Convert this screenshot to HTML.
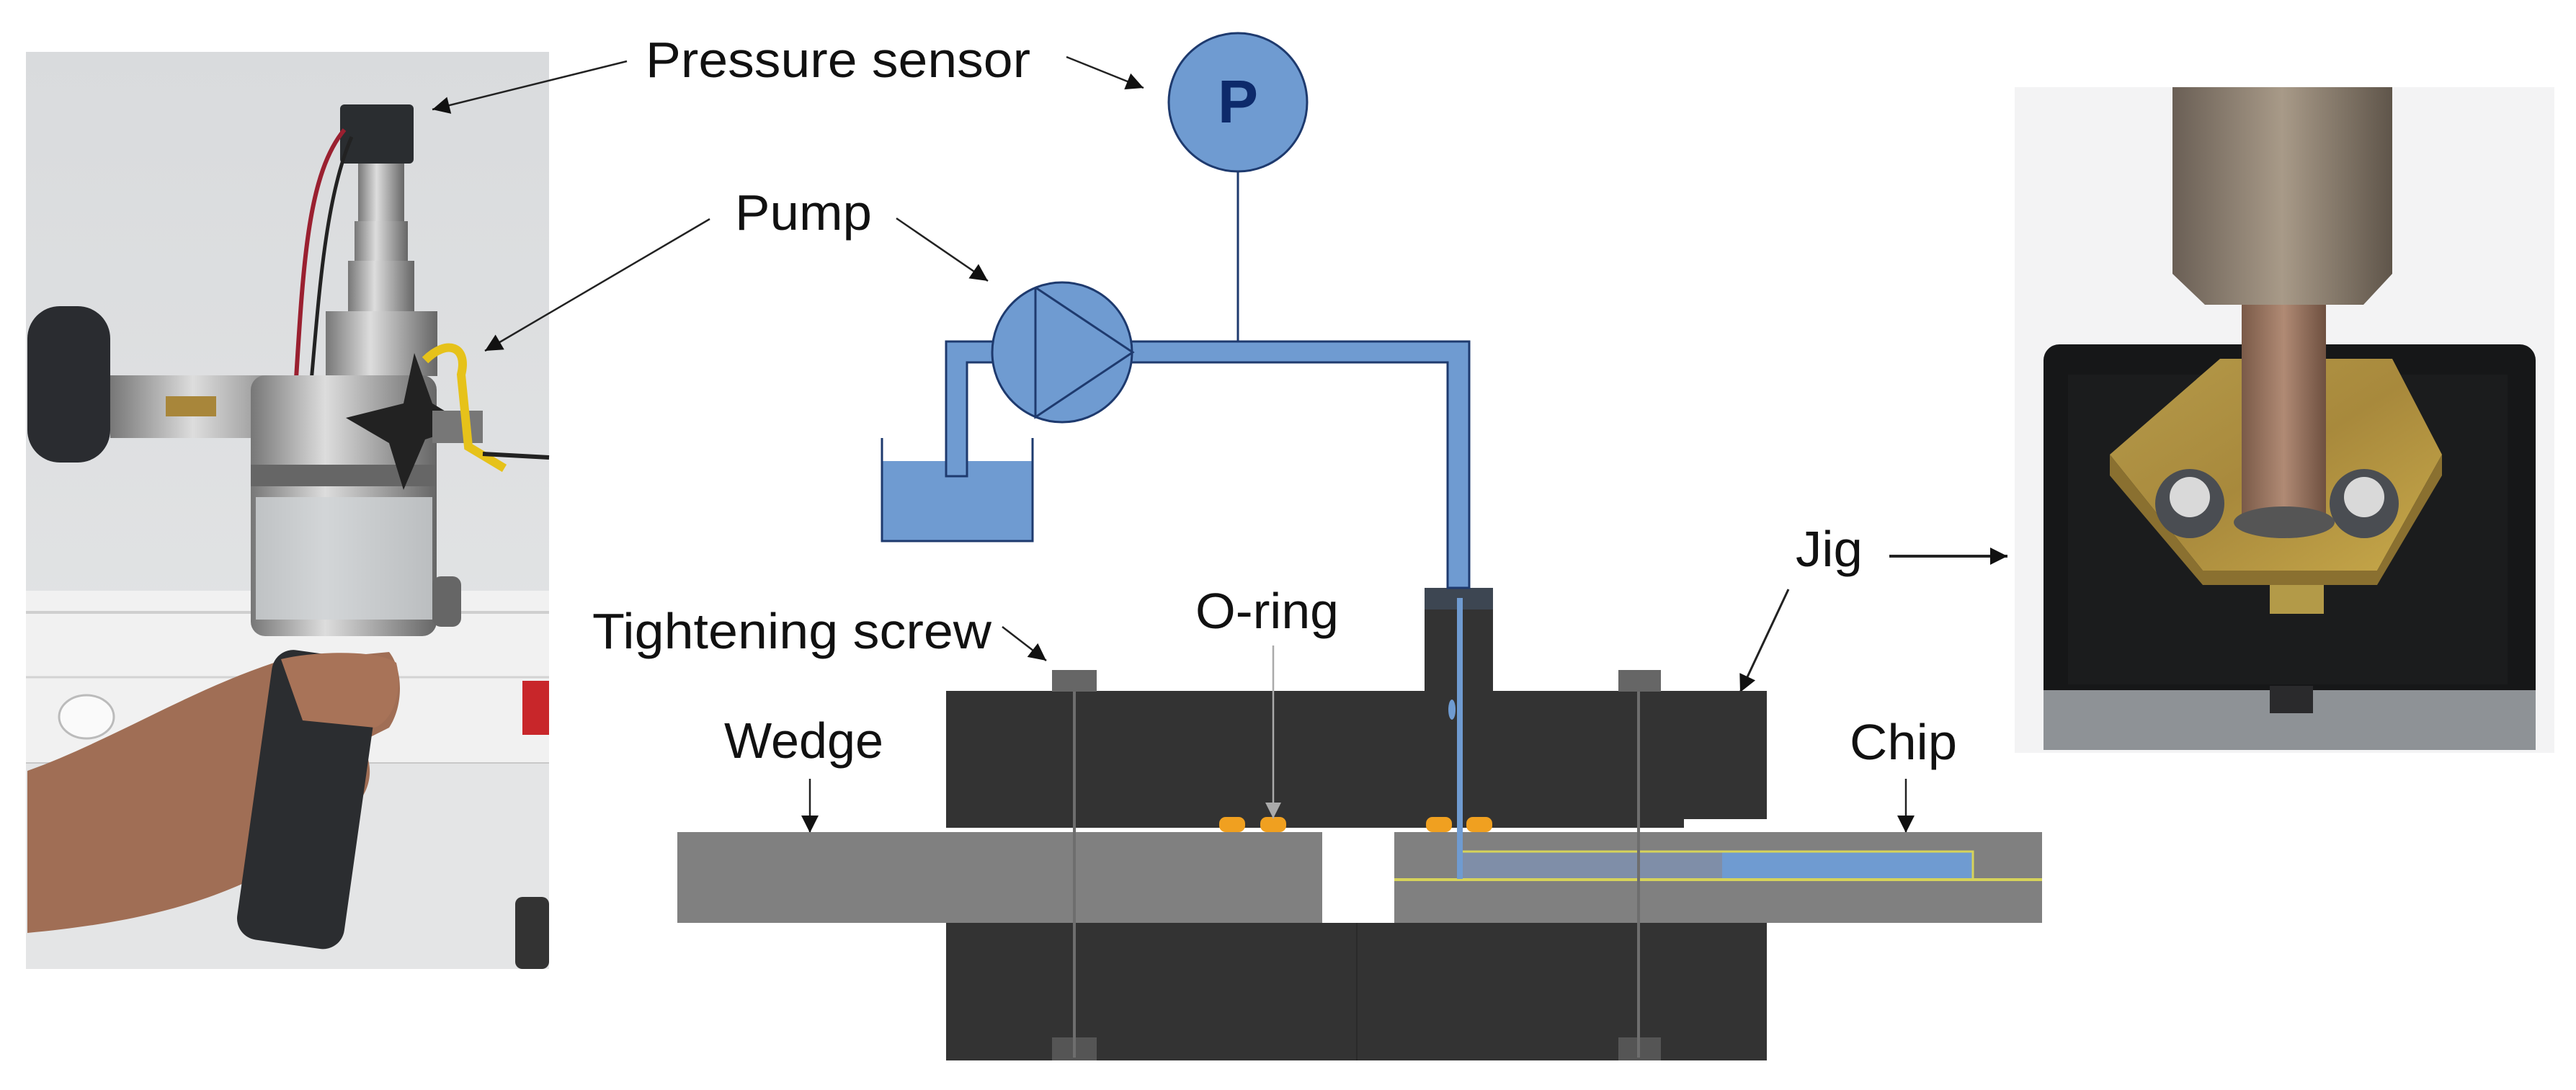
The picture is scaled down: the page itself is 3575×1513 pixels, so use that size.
<!DOCTYPE html>
<html><head><meta charset="utf-8"><style>
html,body{margin:0;padding:0;background:#fff}
svg{display:block}
text{font-family:"Liberation Sans",Arial,sans-serif;fill:#111}
</style></head><body>
<svg width="3575" height="1513" viewBox="0 0 3575 1513" xmlns="http://www.w3.org/2000/svg">
<defs>
<marker id="ah" markerWidth="10" markerHeight="8" refX="9" refY="4" orient="auto" markerUnits="userSpaceOnUse" viewBox="0 0 10 8">
</marker>
<marker id="a" viewBox="0 0 10 10" refX="10" refY="5" markerWidth="28" markerHeight="24" markerUnits="userSpaceOnUse" orient="auto"><path d="M0,0 L10,5 L0,10 Z" fill="#111"/></marker>
<marker id="ag" viewBox="0 0 10 10" refX="10" refY="5" markerWidth="26" markerHeight="22" markerUnits="userSpaceOnUse" orient="auto"><path d="M0,0 L10,5 L0,10 Z" fill="#aaa"/></marker>
<linearGradient id="wall" x1="0" y1="0" x2="0" y2="1"><stop offset="0" stop-color="#d9dbdd"/><stop offset="1" stop-color="#e6e7e8"/></linearGradient>
<linearGradient id="metal" x1="0" y1="0" x2="1" y2="0"><stop offset="0" stop-color="#777"/><stop offset=".4" stop-color="#ddd"/><stop offset="1" stop-color="#666"/></linearGradient>
<linearGradient id="brass" x1="0" y1="0" x2="1" y2="1"><stop offset="0" stop-color="#b59a4a"/><stop offset=".5" stop-color="#a8893c"/><stop offset="1" stop-color="#c8a94a"/></linearGradient>
<linearGradient id="copper" x1="0" y1="0" x2="1" y2="0"><stop offset="0" stop-color="#7a5a48"/><stop offset=".5" stop-color="#b08a74"/><stop offset="1" stop-color="#6e5040"/></linearGradient>
<linearGradient id="nut" x1="0" y1="0" x2="1" y2="0"><stop offset="0" stop-color="#6a5f55"/><stop offset=".5" stop-color="#a89a88"/><stop offset="1" stop-color="#5f554a"/></linearGradient>
</defs>

<!-- LEFT PHOTO -->
<rect x="36" y="72" width="726" height="1273" fill="url(#wall)"/>
<rect x="36" y="820" width="726" height="240" fill="#f1f1f1"/>
<line x1="36" y1="850" x2="762" y2="850" stroke="#cfcfcf" stroke-width="4"/>
<line x1="36" y1="940" x2="762" y2="940" stroke="#d3d3d3" stroke-width="3"/>
<line x1="36" y1="1060" x2="762" y2="1060" stroke="#c8c8c8" stroke-width="4"/>
<rect x="36" y="1060" width="726" height="285" fill="#e4e5e6"/>
<ellipse cx="120" cy="995" rx="38" ry="30" fill="#fafafa" stroke="#bbb" stroke-width="3"/>
<rect x="725" y="945" width="37" height="75" fill="#c8262a"/>
<rect x="715" y="1245" width="47" height="100" rx="10" fill="#333"/>
<!-- device -->
<rect x="472" y="145" width="102" height="82" rx="6" fill="#2a2d30"/>
<path d="M478,180 C420,250 420,400 405,620" stroke="#9a2030" stroke-width="6" fill="none"/>
<path d="M488,190 C440,300 440,500 420,640" stroke="#222" stroke-width="5" fill="none"/>
<rect x="497" y="227" width="64" height="80" fill="url(#metal)"/>
<rect x="492" y="307" width="74" height="55" fill="url(#metal)"/>
<rect x="483" y="362" width="92" height="70" fill="url(#metal)"/>
<rect x="452" y="432" width="155" height="90" fill="url(#metal)"/>
<rect x="153" y="521" width="287" height="87" fill="url(#metal)"/>
<rect x="230" y="550" width="70" height="28" fill="#a8863a"/>
<rect x="38" y="425" width="115" height="217" rx="45" fill="#2a2c30"/>
<rect x="348" y="521" width="258" height="362" rx="20" fill="url(#metal)"/>
<rect x="355" y="690" width="245" height="170" fill="#cfd3d6" opacity=".8"/>
<rect x="348" y="645" width="258" height="30" fill="#666"/>
<path d="M480,580 L560,560 L575,490 L600,560 L650,590 L590,610 L560,680 L540,615 Z" fill="#222"/>
<rect x="600" y="570" width="70" height="45" fill="#777"/>
<path d="M590,500 C620,470 650,480 640,520 L650,620 L700,650" stroke="#e6c21a" stroke-width="12" fill="none"/>
<line x1="670" y1="630" x2="762" y2="635" stroke="#222" stroke-width="6"/>
<rect x="600" y="800" width="40" height="70" rx="12" fill="#666"/>
<!-- hand -->
<path d="M38,1070 C150,1030 260,960 380,920 L540,905 C560,930 560,980 540,1010 L500,1030 C520,1060 520,1100 480,1130 L390,1200 C300,1250 200,1280 38,1295 Z" fill="#a06e55"/>
<rect x="354" y="907" width="150" height="406" rx="30" fill="#2b2d30" transform="rotate(8 430 1100)"/>
<path d="M390,915 C430,905 520,900 550,920 C560,960 545,1000 520,1010 L420,1000 Z" fill="#a87358"/>

<!-- RIGHT PHOTO -->
<rect x="2796" y="121" width="749" height="924" fill="#f3f3f4"/>
<rect x="2836" y="478" width="683" height="563" rx="22" fill="#161718"/>
<rect x="2836" y="958" width="683" height="83" fill="#8e9296"/>
<rect x="3150" y="952" width="60" height="38" fill="#2a2a2c"/>
<rect x="2870" y="520" width="610" height="430" fill="#1b1c1d"/>
<polygon points="3081,498 3320,498 3389,631 3299,792 3057,792 2928,631" fill="url(#brass)"/>
<polygon points="3057,792 3299,792 3389,631 3389,660 3299,812 3057,812 2928,660 2928,631" fill="#8a7030"/>
<rect x="3150" y="812" width="75" height="40" fill="#b39a48"/>
<rect x="3111" y="423" width="117" height="298" fill="url(#copper)"/>
<polygon points="3015,121 3320,121 3320,380 3280,423 3060,423 3015,380" fill="url(#nut)"/>
<circle cx="3039" cy="699" r="48" fill="#4a4d52"/><circle cx="3039" cy="690" r="28" fill="#d9d9d9"/>
<circle cx="3281" cy="699" r="48" fill="#4a4d52"/><circle cx="3281" cy="690" r="28" fill="#d9d9d9"/>
<ellipse cx="3170" cy="725" rx="70" ry="22" fill="#555"/>

<!-- LABELS -->
<text x="896" y="107" font-size="70" textLength="534" lengthAdjust="spacingAndGlyphs">Pressure sensor</text>
<text x="1020" y="319" font-size="70" textLength="190" lengthAdjust="spacingAndGlyphs">Pump</text>
<text x="822" y="900" font-size="70" textLength="554" lengthAdjust="spacingAndGlyphs">Tightening screw</text>
<text x="1659" y="872" font-size="70" textLength="199" lengthAdjust="spacingAndGlyphs">O-ring</text>
<text x="1005" y="1052" font-size="70" textLength="221" lengthAdjust="spacingAndGlyphs">Wedge</text>
<text x="2567" y="1054" font-size="70" textLength="149" lengthAdjust="spacingAndGlyphs">Chip</text>
<text x="2492" y="786" font-size="70" textLength="93" lengthAdjust="spacingAndGlyphs">Jig</text>

<!-- ARROWS -->
<g stroke="#222" stroke-width="2.5" fill="none">
<line x1="870" y1="85" x2="600" y2="152" marker-end="url(#a)"/>
<line x1="1480" y1="79" x2="1587" y2="122" marker-end="url(#a)"/>
<line x1="985" y1="304" x2="673" y2="487" marker-end="url(#a)"/>
<line x1="1244" y1="303" x2="1371" y2="390" marker-end="url(#a)"/>
<line x1="1391" y1="870" x2="1452" y2="917" marker-end="url(#a)"/>
<line x1="1124" y1="1081" x2="1124" y2="1156" marker-end="url(#a)"/>
<line x1="2645" y1="1081" x2="2645" y2="1156" marker-end="url(#a)"/>
<line x1="2622" y1="772" x2="2786" y2="772" stroke-width="4" marker-end="url(#a)"/>
<line x1="2482" y1="818" x2="2415" y2="961" stroke-width="3" marker-end="url(#a)"/>
</g>

<!-- JIG DIAGRAM -->
<rect x="1313" y="959" width="1139" height="190" fill="#333"/>
<rect x="2337" y="1137" width="115" height="14" fill="#fff"/>
<rect x="1977" y="816" width="95" height="145" fill="#333"/>
<rect x="1977" y="816" width="95" height="30" fill="#3d4652"/>
<rect x="1460" y="930" width="62" height="30" fill="#666"/>
<rect x="2246" y="930" width="59" height="30" fill="#666"/>
<rect x="940" y="1155" width="895" height="126" fill="#808080"/>
<rect x="1935" y="1155" width="899" height="126" fill="#808080"/>
<rect x="2026" y="1182" width="364" height="38" fill="#7f8ea8"/>
<rect x="2390" y="1182" width="348" height="38" fill="#6f9bd1"/>
<polyline points="2026,1182 2738,1182 2738,1221" stroke="#d6d35a" stroke-width="3" fill="none"/>
<line x1="1935" y1="1221" x2="2834" y2="1221" stroke="#d6d35a" stroke-width="4"/>
<rect x="1313" y="1281" width="1139" height="191" fill="#333"/>
<line x1="1883" y1="1281" x2="1883" y2="1472" stroke="#2a2a2a" stroke-width="2"/>
<rect x="1460" y="1440" width="62" height="32" fill="#555"/>
<rect x="2246" y="1440" width="59" height="32" fill="#555"/>
<g stroke="#6e6e6e" stroke-width="4">
<line x1="1491" y1="960" x2="1491" y2="1468"/>
<line x1="2274" y1="960" x2="2274" y2="1468"/>
</g>
<g fill="#f0a020">
<rect x="1692" y="1134" width="36" height="21" rx="9"/>
<rect x="1749" y="1134" width="36" height="21" rx="9"/>
<rect x="1979" y="1134" width="36" height="21" rx="9"/>
<rect x="2035" y="1134" width="36" height="21" rx="9"/>
</g>
<line x1="1767" y1="896" x2="1767" y2="1136" stroke="#aaa" stroke-width="2.5" marker-end="url(#ag)"/>
<line x1="2026" y1="830" x2="2026" y2="1220" stroke="#6f9bd1" stroke-width="8"/>
<ellipse cx="2015" cy="985" rx="5" ry="14" fill="#6f9bd1"/>

<!-- HYDRAULIC SCHEMATIC -->
<path d="M1224,640 L1433,640 L1433,751 L1224,751 Z" fill="#6f9bd1"/>
<polyline points="1224,608 1224,751 1433,751 1433,608" stroke="#1e3a6e" stroke-width="3" fill="none"/>
<path d="M1313,661 L1313,474 L1400,474 L1400,503 L1342,503 L1342,661 Z" fill="#6f9bd1" stroke="#1e3a6e" stroke-width="3"/>
<path d="M1560,474 L2039,474 L2039,816 L2009,816 L2009,503 L1560,503 Z" fill="#6f9bd1" stroke="#1e3a6e" stroke-width="3"/>
<line x1="1718" y1="237" x2="1718" y2="474" stroke="#1e3a6e" stroke-width="3"/>
<circle cx="1718" cy="142" r="96" fill="#6f9bd1" stroke="#1e3a6e" stroke-width="3"/>
<text x="1718" y="170" font-size="84" font-weight="bold" text-anchor="middle" style="fill:#0d2a6b">P</text>
<circle cx="1474" cy="489" r="97" fill="#6f9bd1" stroke="#1e3a6e" stroke-width="3"/>
<polyline points="1437,399 1437,579 1572,489 1437,399" stroke="#1e3a6e" stroke-width="3" fill="none"/>
</svg>
</body></html>
